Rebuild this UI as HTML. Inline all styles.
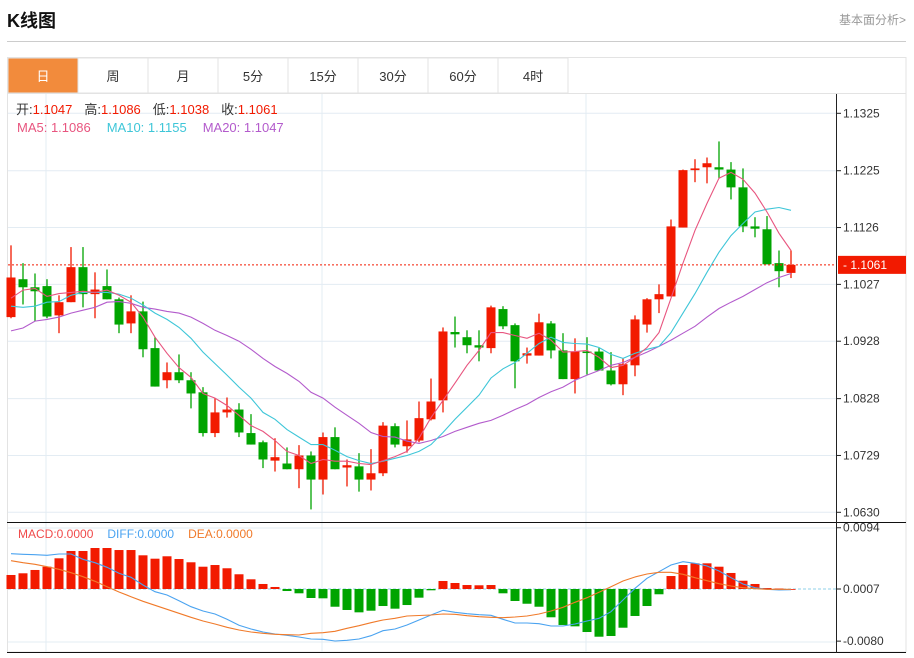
<!DOCTYPE html>
<html><head><meta charset="utf-8"><style>
html,body{margin:0;padding:0;background:#fff;}
body{width:914px;height:653px;overflow:hidden;font-family:"Liberation Sans","Noto Sans CJK SC",sans-serif;}
svg text{font-family:"Liberation Sans","Noto Sans CJK SC",sans-serif;}
</style></head><body>
<svg id="chart" width="914" height="653" xmlns="http://www.w3.org/2000/svg">
  <text x="7" y="27" font-size="18" font-weight="bold" fill="#111">K线图</text>
  <text x="906" y="24" font-size="12" fill="#999" text-anchor="end">基本面分析&gt;</text>
  <line x1="7" y1="41.5" x2="906" y2="41.5" stroke="#ccc" stroke-width="1"/>
  <g id="tabs"></g>
  <rect x="7.5" y="93.5" width="898.5" height="558.5" fill="none" stroke="#e3e3e3"/>
  <g id="grid"></g>
  <g id="macdg"></g>
  <g id="candles"></g>
  <g id="malines"></g>
  <g id="axis"></g>
  <g font-size="13">
    <text x="16" y="114" fill="#333">开:<tspan fill="#f21a00">1.1047</tspan><tspan dx="12">高:</tspan><tspan fill="#f21a00">1.1086</tspan><tspan dx="12">低:</tspan><tspan fill="#f21a00">1.1038</tspan><tspan dx="12">收:</tspan><tspan fill="#f21a00">1.1061</tspan></text>
    <text x="17" y="132"><tspan fill="#e8557f">MA5: 1.1086</tspan><tspan dx="16" fill="#3ec6d8">MA10: 1.1155</tspan><tspan dx="16" fill="#b35bcc">MA20: 1.1047</tspan></text>
  </g>
  <g font-size="12">
    <text x="18" y="538"><tspan fill="#f04a4a">MACD:0.0000</tspan><tspan dx="14" fill="#4aa3f0">DIFF:0.0000</tspan><tspan dx="14" fill="#f07a2a">DEA:0.0000</tspan></text>
  </g>
</svg>
<script>
const tabLabels = ["日","周","月","5分","15分","30分","60分","4时"];
const priceTicks = [1.1325,1.1225,1.1126,1.1027,1.0928,1.0828,1.0729,1.0630];
const macdTicks = [94, 0, -80];
const macdTickLabels = ["0.0094","0.0007","-0.0080"];
const lastPrice = 1.1061;
const open = [1.0970,1.1036,1.1022,1.1024,1.0973,1.0996,1.1057,1.1010,1.1024,1.1001,1.0959,1.0980,1.0916,1.0860,1.0874,1.0860,1.0839,1.0768,1.0804,1.0809,1.0768,1.0752,1.0720,1.0715,1.0705,1.0729,1.0687,1.0761,1.0708,1.0710,1.0687,1.0698,1.0780,1.0745,1.0755,1.0792,1.0825,1.0944,1.0935,1.0921,1.0916,1.0984,1.0956,1.0903,1.0903,1.0959,1.0912,1.0862,1.0910,1.0910,1.0877,1.0853,1.0886,1.0957,1.1001,1.1006,1.1126,1.1226,1.1231,1.1231,1.1227,1.1196,1.1128,1.1123,1.1064,1.1047];
const close = [1.1039,1.1022,1.1015,1.0971,1.0996,1.1057,1.1010,1.1018,1.1001,1.0957,1.0980,1.0914,1.0849,1.0874,1.0860,1.0837,1.0768,1.0804,1.0809,1.0769,1.0748,1.0722,1.0726,1.0705,1.0729,1.0687,1.0761,1.0705,1.0712,1.0687,1.0698,1.0781,1.0748,1.0757,1.0794,1.0823,1.0945,1.0940,1.0921,1.0917,1.0987,1.0954,1.0893,1.0907,1.0961,1.0912,1.0862,1.0910,1.0909,1.0877,1.0853,1.0888,1.0966,1.1001,1.1010,1.1128,1.1226,1.1229,1.1238,1.1227,1.1196,1.1128,1.1124,1.1062,1.1050,1.1061];
const high = [1.1095,1.1064,1.1046,1.1036,1.1008,1.1092,1.1092,1.1048,1.1053,1.1004,1.1008,1.0997,1.0935,1.0891,1.0905,1.0874,1.0848,1.0829,1.0830,1.0820,1.0801,1.0755,1.0759,1.0743,1.0747,1.0736,1.0769,1.0778,1.0722,1.0733,1.0740,1.0787,1.0785,1.0790,1.0823,1.0863,1.0952,1.0971,1.0947,1.0947,1.0990,1.0989,1.0959,1.0917,1.0976,1.0963,1.0942,1.0933,1.0935,1.0916,1.0909,1.0898,1.0973,1.1003,1.1027,1.1140,1.1227,1.1245,1.1248,1.1276,1.1240,1.1229,1.1144,1.1146,1.1086,1.1086];
const low = [1.0968,1.0992,1.0963,1.0968,1.0942,1.0996,1.0987,1.0968,1.1001,1.0942,1.0942,1.0900,1.0849,1.0846,1.0855,1.0811,1.0762,1.0761,1.0795,1.0761,1.0748,1.0707,1.0701,1.0705,1.0672,1.0635,1.0661,1.0705,1.0675,1.0666,1.0668,1.0693,1.0743,1.0734,1.0752,1.0790,1.0804,1.0917,1.0907,1.0893,1.0907,1.0949,1.0846,1.0889,1.0903,1.0898,1.0862,1.0837,1.0870,1.0877,1.0851,1.0834,1.0867,1.0943,1.0977,1.1006,1.1126,1.1205,1.1203,1.1212,1.1175,1.1118,1.1109,1.1062,1.1022,1.1038];
const ma5 = [1.1003,1.1017,1.1020,1.1006,1.1011,1.1013,1.1015,1.1013,1.1017,1.1008,1.0996,1.0970,1.0935,1.0907,1.0882,1.0865,1.0837,1.0829,1.0816,1.0799,1.0781,1.0771,1.0755,1.0736,1.0729,1.0715,1.0722,1.0719,1.0719,1.0715,1.0713,1.0720,1.0727,1.0736,1.0759,1.0795,1.0825,1.0855,1.0886,1.0912,1.0943,1.0943,1.0938,1.0933,1.0942,1.0930,1.0909,1.0910,1.0912,1.0900,1.0882,1.0886,1.0900,1.0917,1.0943,1.1003,1.1064,1.1121,1.1168,1.1212,1.1222,1.1210,1.1186,1.1153,1.1116,1.1086];
const ma10 = [1.0989,1.0987,1.0989,1.0996,1.0997,1.1008,1.1013,1.1013,1.1013,1.1010,1.1003,1.0991,1.0977,1.0966,1.0952,1.0933,1.0909,1.0889,1.0869,1.0848,1.0829,1.0804,1.0792,1.0774,1.0761,1.0748,1.0748,1.0738,1.0727,1.0720,1.0715,1.0719,1.0724,1.0729,1.0736,1.0748,1.0769,1.0792,1.0813,1.0834,1.0864,1.0880,1.0891,1.0907,1.0924,1.0935,1.0926,1.0924,1.0923,1.0917,1.0905,1.0898,1.0907,1.0914,1.0919,1.0943,1.0977,1.1011,1.1048,1.1083,1.1112,1.1133,1.1153,1.1158,1.1161,1.1156];
const ma20 = [1.0946,1.0951,1.0963,1.0966,1.0970,1.0977,1.0982,1.0987,1.0996,1.0997,1.0994,1.0987,1.0984,1.0980,1.0977,1.0970,1.0959,1.0947,1.0938,1.0928,1.0914,1.0898,1.0884,1.0872,1.0858,1.0839,1.0829,1.0813,1.0799,1.0785,1.0769,1.0762,1.0761,1.0754,1.0750,1.0755,1.0762,1.0771,1.0778,1.0785,1.0790,1.0799,1.0809,1.0818,1.0830,1.0840,1.0848,1.0860,1.0869,1.0877,1.0886,1.0891,1.0900,1.0909,1.0919,1.0930,1.0942,1.0954,1.0970,1.0985,1.0996,1.1006,1.1018,1.1030,1.1039,1.1046];
// MACD values in units of 0.0001
const macdHist = [21.5,24.1,29.2,34.2,47.1,58.3,58.3,62.9,62.9,59.8,59.8,51.7,46.5,50.2,46.0,41.0,34.2,36.8,31.8,22.6,14.9,7.7,3.1,-3.1,-6.6,-13.8,-14.3,-27.2,-32.2,-35.8,-33.3,-26.1,-30.2,-24.6,-13.3,-2.0,12.3,9.2,6.1,5.7,6.1,-6.6,-18.4,-22.6,-27.2,-43.4,-55.2,-57.3,-66.0,-73.2,-72.1,-59.4,-41.4,-26.1,-8.1,19.9,36.8,39.4,39.4,34.2,24.6,12.7,7.7,1.5,0.8,0];
const diff = [54.2,53.2,52.6,51.7,53.7,53.7,45.6,40.4,33.3,24.1,18.0,6.1,-4.1,-9.2,-18.0,-27.2,-33.8,-38.4,-46.5,-55.7,-61.4,-66.0,-69.1,-71.0,-73.7,-76.7,-77.2,-79.8,-78.7,-76.7,-71.7,-64.0,-61.4,-55.2,-47.6,-39.9,-32.7,-35.8,-37.9,-39.4,-40.4,-46.5,-52.2,-52.2,-53.2,-56.8,-56.8,-53.7,-49.1,-45.0,-34.8,-16.9,1.1,16.4,26.5,36.8,41.9,39.4,35.3,27.6,17.3,7.7,2.0,-0.5,-1.5,-1.1];
const dea = [43.4,40.4,37.9,34.2,30.2,25.0,18.9,11.8,3.5,-4.6,-11.8,-18.9,-25.0,-31.1,-37.3,-43.4,-49.1,-53.7,-58.8,-62.9,-66.0,-68.0,-69.5,-70.1,-70.6,-68.0,-67.1,-64.9,-60.3,-56.3,-51.7,-47.6,-45.0,-41.4,-40.7,-39.9,-38.4,-38.8,-41.0,-42.5,-43.4,-44.0,-43.0,-41.4,-38.4,-33.8,-28.1,-20.4,-13.3,-5.1,3.5,12.3,18.4,23.0,25.6,25.6,22.6,17.3,12.7,8.1,4.6,2.0,0.5,-0.5,-0.5,-0.5];

const NS = "http://www.w3.org/2000/svg";
function mk(tag, attrs, parent){const e=document.createElementNS(NS,tag);for(const k in attrs)e.setAttribute(k,attrs[k]);parent.appendChild(e);return e;}
const xOf = i => 11 + 12*i;
const yP = p => 113.3 + (1.1325 - p)*5741;
const yM = v => 589 - v*0.6517;
const RED="#f21a00", GREEN="#00a400";

const tabs=document.getElementById('tabs');
mk('rect',{x:7.5,y:57.5,width:898.5,height:36,fill:'#fff',stroke:'#e3e3e3'},tabs);
tabLabels.forEach((t,i)=>{
  const g=mk('g',{},tabs);
  
  
  const x0=8+70*i;
  mk('rect',{x:x0,y:58,width:70,height:35,fill:i===0?'#f28b3c':'#fff',stroke:'#e3e3e3'},g);
  const tx=mk('text',{x:x0+35,y:81,'font-size':13,'text-anchor':'middle',fill:i===0?'#fff':'#333'},g);
  tx.textContent=t;
});

const grid=document.getElementById('grid');
priceTicks.forEach(p=>{mk('line',{x1:8,x2:836,y1:yP(p),y2:yP(p),stroke:'#e3ecf3'},grid);});
[46,322,586].forEach(x=>{mk('line',{x1:x,x2:x,y1:94,y2:652,stroke:'#e3ecf3'},grid);});
mk('line',{x1:8,x2:836,y1:528,y2:528,stroke:'#e3ecf3'},grid);
mk('line',{x1:8,x2:836,y1:642,y2:642,stroke:'#e3ecf3'},grid);
mk('line',{x1:7,x2:906,y1:522.5,y2:522.5,stroke:'#111'},grid);
mk('line',{x1:7,x2:906,y1:652.5,y2:652.5,stroke:'#111'},grid);

const axis=document.getElementById('axis');
mk('line',{x1:836.5,x2:836.5,y1:94,y2:653,stroke:'#222'},axis);
priceTicks.forEach(p=>{
  mk('line',{x1:836,x2:841,y1:yP(p),y2:yP(p),stroke:'#222'},axis);
  const t=mk('text',{x:843,y:yP(p)+4,'font-size':12,fill:'#333'},axis);
  
  
  t.textContent=p.toFixed(4);
});
macdTicks.forEach((v,i)=>{
  mk('line',{x1:836,x2:841,y1:yM(v),y2:yM(v),stroke:'#222'},axis);
  const t=mk('text',{x:843,y:yM(v)+4,'font-size':12,fill:'#333'},axis);
  
  
  t.textContent=macdTickLabels[i];
});
mk('line',{x1:8,x2:836,y1:yP(lastPrice),y2:yP(lastPrice),stroke:'#f21a00','stroke-dasharray':'2,2'},axis);
const lb=mk('g',{},axis);


mk('rect',{x:838,y:yP(lastPrice)-9,width:68,height:18,fill:'#f21a00'},lb);
const lt=mk('text',{x:843,y:yP(lastPrice)+4,'font-size':12,fill:'#fff'},lb);
lt.textContent='- '+lastPrice.toFixed(4);

const cg=document.getElementById('candles');
open.forEach((o,i)=>{
  const c=close[i], up=c>=o, col=up?RED:GREEN, x=xOf(i);
  const g=mk('g',{},cg);
  
  
  mk('line',{x1:x,x2:x,y1:yP(high[i]),y2:yP(low[i]),stroke:col,'stroke-width':1.3},g);
  const top=yP(Math.max(o,c)), bot=yP(Math.min(o,c));
  mk('rect',{x:x-4.5,y:top,width:9,height:Math.max(1.5,bot-top),fill:col},g);
});

const mg=document.getElementById('malines');
function poly(arr,fy,col,name,parent){
  const pl=mk('polyline',{points:arr.map((v,i)=>xOf(i)+','+fy(v).toFixed(1)).join(' '),fill:'none',stroke:col,'stroke-width':1.1},parent);
  
  
}
poly(ma20,yP,'#b35bcc','ma20-line',mg);
poly(ma10,yP,'#3ec6d8','ma10-line',mg);
poly(ma5,yP,'#e8557f','ma5-line',mg);

const md=document.getElementById('macdg');
mk('line',{x1:8,x2:836,y1:589,y2:589,stroke:'#8fd0e8','stroke-dasharray':'3,2'},md);
macdHist.forEach((v,i)=>{
  const y0=yM(0), y1=yM(v);
  const r=mk('rect',{x:xOf(i)-4.5,y:Math.min(y0,y1),width:9,height:Math.max(0.8,Math.abs(y1-y0)),fill:v>=0?RED:GREEN},md);
  
  
});
poly(diff,yM,'#4aa3f0','diff-line',md);
poly(dea,yM,'#f07a2a','dea-line',md);
</script>
</body></html>
